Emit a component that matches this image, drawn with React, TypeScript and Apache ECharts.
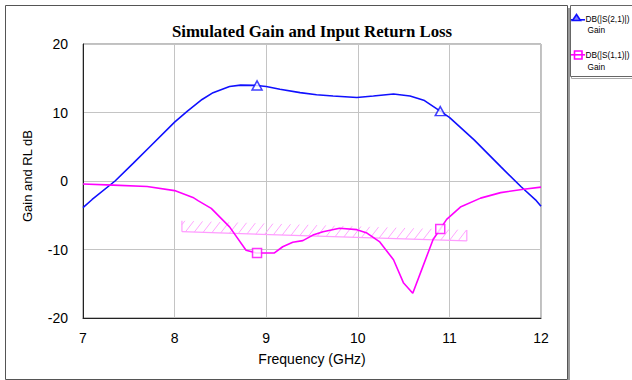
import React, { useEffect, useRef } from "react";
import * as echarts from "echarts";

// S21 gain (dB) vs frequency (GHz)
const gainFreq = [7.0, 7.1, 7.35, 7.55, 7.73, 8.0, 8.14, 8.3, 8.42, 8.6, 8.72, 8.9, 9.0, 9.15, 9.37, 9.55, 9.73, 9.99, 10.17, 10.39, 10.57, 10.72, 10.9, 11.0, 11.27, 11.56, 11.78, 11.94, 12.0];
const gainDb = [-3.9, -2.7, 0.0, 2.6, 5.0, 8.6, 10.2, 11.9, 12.9, 13.8, 14.0, 13.95, 13.8, 13.4, 12.9, 12.6, 12.4, 12.2, 12.4, 12.7, 12.4, 11.8, 10.2, 9.3, 6.0, 2.1, -0.8, -2.75, -3.7];

// S11 return loss (dB) vs frequency (GHz)
const rlFreq = [7.0, 7.33, 7.7, 8.0, 8.05, 8.2, 8.26, 8.4, 8.6, 8.78, 8.89, 9.09, 9.18, 9.29, 9.4, 9.51, 9.62, 9.8, 9.99, 10.1, 10.24, 10.39, 10.5, 10.6, 10.71, 10.82, 10.9, 10.97, 11.12, 11.34, 11.56, 11.81, 12.0];
const rlDb = [-0.44, -0.6, -0.8, -1.4, -1.65, -2.4, -2.9, -4.0, -6.7, -10.1, -10.5, -10.5, -9.6, -8.95, -8.7, -7.9, -7.4, -6.9, -7.1, -7.6, -8.9, -11.5, -14.9, -16.4, -12.5, -8.6, -7.0, -5.6, -3.8, -2.5, -1.7, -1.2, -0.9];

// Markers
const gainMarkerFreq = [8.9, 10.9];
const gainMarkerDb = [13.95, 10.2];
const rlMarkerFreq = [8.9, 10.9];
const rlMarkerDb = [-10.5, -7.0];

// Spec band (hatched)
const specFreq = [8.08, 11.19];
const specLow = [-7.4, -8.75];
const specHigh = [-5.8, -7.15];

// Axes
const xTicks = [7, 8, 9, 10, 11, 12];
const yTicks = [-20, -10, 0, 10, 20];

const BLUE = "#1010ff";
const MAG = "#ff00ff";
const SANS = "Liberation Sans, Arial, sans-serif";

export default function App() {
  const ref = useRef<HTMLDivElement>(null);
  useEffect(() => {
    if (!ref.current) return;
    const chart = echarts.init(ref.current, undefined, { renderer: "svg" });
    const pair = (xs: number[], ys: number[]) => xs.map((x, i) => [x, ys[i]]);

    const renderBand = (params: any, api: any) => {
      const bl = api.coord([specFreq[0], specLow[0]]);
      const br = api.coord([specFreq[1], specLow[1]]);
      const tl = api.coord([specFreq[0], specHigh[0]]);
      const tr = api.coord([specFreq[1], specHigh[1]]);
      const yb = (x: number) => bl[1] + ((x - bl[0]) * (br[1] - bl[1])) / (br[0] - bl[0]);
      const yt = (x: number) => tl[1] + ((x - tl[0]) * (tr[1] - tl[1])) / (tr[0] - tl[0]);
      const h = bl[1] - tl[1];
      const dx = h * 0.75;
      const spacing = 8.8;
      const children: any[] = [];
      for (let x0 = bl[0] - dx + 3; x0 < br[0]; x0 += spacing) {
        const ax = x0, ay = yb(x0);
        const bx = x0 + dx, by = yt(x0 + dx);
        const t0 = Math.max(0, (bl[0] - ax) / dx);
        const t1 = Math.min(1, (br[0] - ax) / dx);
        if (t0 >= t1) continue;
        children.push({
          type: "line",
          shape: {
            x1: ax + t0 * (bx - ax), y1: ay + t0 * (by - ay),
            x2: ax + t1 * (bx - ax), y2: ay + t1 * (by - ay),
          },
          style: { stroke: "#ffa6ff", lineWidth: 1 },
        });
      }
      const edge = { stroke: "#ff9cff", lineWidth: 1.2 };
      children.push({ type: "line", shape: { x1: bl[0], y1: bl[1], x2: br[0], y2: br[1] }, style: edge });
      children.push({ type: "line", shape: { x1: bl[0], y1: bl[1], x2: tl[0], y2: tl[1] }, style: edge });
      children.push({ type: "line", shape: { x1: br[0], y1: br[1], x2: tr[0], y2: tr[1] }, style: edge });
      return { type: "group", children };
    };

    chart.setOption({
      animation: false,
      backgroundColor: "#ffffff",
      grid: {
        left: 83, top: 44, right: 91, bottom: 62,
        show: true, borderColor: "#808080", borderWidth: 1, backgroundColor: "transparent",
      },
      xAxis: {
        type: "value", min: xTicks[0], max: xTicks[xTicks.length - 1], interval: 1,
        name: "Frequency (GHz)", nameLocation: "middle", nameGap: 34,
        nameTextStyle: { fontFamily: SANS, fontSize: 14, color: "#000" },
        axisLine: { show: true, onZero: false, lineStyle: { color: "#222", width: 1 } },
        axisTick: { show: false },
        axisLabel: { fontFamily: SANS, fontSize: 14, color: "#000", margin: 13 },
        splitLine: { show: true, lineStyle: { color: "#c4c4c4", width: 1 } },
      },
      yAxis: {
        type: "value", min: yTicks[0], max: yTicks[yTicks.length - 1], interval: 10,
        axisLine: { show: true, onZero: false, lineStyle: { color: "#222", width: 1 } },
        axisTick: { show: false },
        axisLabel: { fontFamily: SANS, fontSize: 14, color: "#000", margin: 15 },
        splitLine: { show: true, lineStyle: { color: "#c4c4c4", width: 1 } },
      },
      series: [
        {
          type: "custom", coordinateSystem: "cartesian2d", renderItem: renderBand,
          data: [[specFreq[0], specLow[0]]], silent: true, z: 1,
        },
        {
          type: "line", name: "DB(|S(2,1)|) Gain", data: pair(gainFreq, gainDb),
          showSymbol: false, symbol: "none", lineStyle: { color: BLUE, width: 1.6 }, z: 3,
        },
        {
          type: "line", name: "DB(|S(1,1)|) Gain", data: pair(rlFreq, rlDb),
          showSymbol: false, symbol: "none", lineStyle: { color: MAG, width: 1.6 }, z: 3,
        },
        {
          type: "scatter", data: pair(gainMarkerFreq, gainMarkerDb), symbol: "triangle",
          symbolSize: [10, 9], itemStyle: { color: "#ffffff", borderColor: BLUE, borderWidth: 1.5 }, z: 4,
        },
        {
          type: "scatter", data: pair(rlMarkerFreq, rlMarkerDb), symbol: "rect",
          symbolSize: [9, 9], itemStyle: { color: "#ffffff", borderColor: MAG, borderWidth: 1.5 }, z: 4,
        },
      ],
      graphic: [
        { type: "rect", shape: { x: 5.5, y: 5.5, width: 562, height: 374 }, style: { fill: "none", stroke: "#555", lineWidth: 1 }, z: -10 },
        { type: "line", shape: { x1: 569, y1: 8, x2: 569, y2: 380 }, style: { stroke: "#999", lineWidth: 2 }, z: -10 },
        {
          type: "text", x: 312, y: 31,
          style: { text: "Simulated Gain and Input Return Loss", fontFamily: "Liberation Serif, Times New Roman, serif", fontWeight: "bold", fontSize: 16.8, fill: "#000", textAlign: "center", textVerticalAlign: "middle" },
        },
        {
          type: "text", x: 27, y: 176, rotation: Math.PI / 2,
          style: { text: "Gain and RL dB", fontFamily: SANS, fontSize: 13, fill: "#000", textAlign: "center", textVerticalAlign: "middle" },
        },
        // legend box
        { type: "rect", shape: { x: 571.5, y: 6.5, width: 70, height: 72 }, style: { fill: "none", stroke: "#aaa", lineWidth: 1 } },
        { type: "rect", shape: { x: 570.5, y: 5.5, width: 70, height: 71 }, style: { fill: "#fff", stroke: "#666", lineWidth: 1 } },
        { type: "line", shape: { x1: 571, y1: 19.8, x2: 585, y2: 19.8 }, style: { stroke: BLUE, lineWidth: 1.6 } },
        { type: "polygon", shape: { points: [[576.5, 14.5], [572.5, 20.5], [580.5, 20.5]] }, style: { fill: "#8080ff", stroke: BLUE, lineWidth: 1.6 } },
        { type: "text", x: 585.5, y: 18.5, style: { text: "DB(|S(2,1)|)", fontFamily: SANS, fontSize: 8.3, fill: "#000", textVerticalAlign: "middle" } },
        { type: "text", x: 587.5, y: 30, style: { text: "Gain", fontFamily: SANS, fontSize: 8.3, fill: "#000", textVerticalAlign: "middle" } },
        { type: "line", shape: { x1: 571, y1: 54.8, x2: 585, y2: 54.8 }, style: { stroke: MAG, lineWidth: 1.6 } },
        { type: "rect", shape: { x: 574.5, y: 51, width: 7.5, height: 8 }, style: { fill: "none", stroke: MAG, lineWidth: 1.6 } },
        { type: "text", x: 585.5, y: 54.5, style: { text: "DB(|S(1,1)|)", fontFamily: SANS, fontSize: 8.3, fill: "#000", textVerticalAlign: "middle" } },
        { type: "text", x: 587.5, y: 66.5, style: { text: "Gain", fontFamily: SANS, fontSize: 8.3, fill: "#000", textVerticalAlign: "middle" } },
      ],
    });
    return () => chart.dispose();
  }, []);
  return <div ref={ref} style={{ position: "absolute", left: 0, top: 0, width: 632, height: 380 }} />;
}
